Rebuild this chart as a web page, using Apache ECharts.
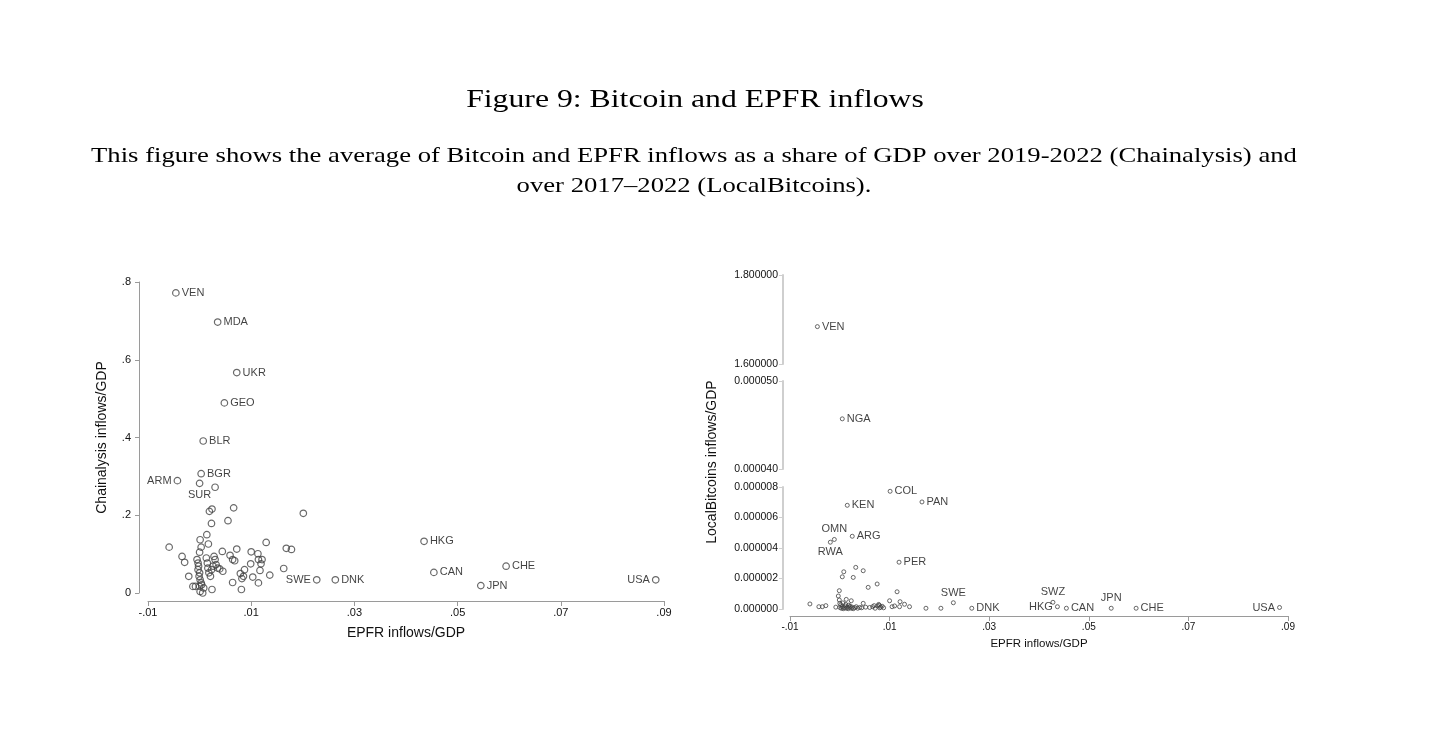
<!DOCTYPE html>
<html>
<head>
<meta charset="utf-8">
<title>Figure 9: Bitcoin and EPFR inflows</title>
<script src="https://cdn.jsdelivr.net/npm/echarts@6/dist/echarts.min.js"></script>
<style>
  html, body { margin: 0; padding: 0; background: #fff; }
  #chart { width: 1440px; height: 738px; }
</style>
</head>
<body>
<div id="chart"></div>
<script>
// left panel: Chainalysis inflows/GDP vs EPFR inflows/GDP (labelled countries)
const leftNames = ['VEN', 'MDA', 'UKR', 'GEO', 'BLR', 'BGR', 'ARM', 'SUR', 'HKG', 'CAN', 'CHE', 'JPN', 'USA', 'SWE', 'DNK']
const leftX = [-0.0046, 0.0035, 0.0072, 0.0048, 0.0007, 0.0003, -0.0043, 0.0000, 0.0435, 0.0454, 0.0594, 0.0545, 0.0884, 0.0227, 0.0263]
const leftY = [0.772, 0.697, 0.567, 0.489, 0.391, 0.307, 0.289, 0.282, 0.133, 0.053, 0.069, 0.019, 0.034, 0.034, 0.034]

// left panel: unlabelled countries
const leftOtherX = [
  -0.0059, -0.0034, -0.0029, -0.0021, -0.0013, -0.0008, -0.0005, -0.0003, -0.0002, -0.0003,
  0.0000, -0.0001, 0.0001, 0.0003, 0.0000, 0.0001, 0.0006, 0.0008, 0.0004, 0.0001,
  0.0003, 0.0000, 0.0014, 0.0017, 0.0019, 0.0024, 0.0023, 0.0013, 0.0015, 0.0016,
  0.0018, 0.0021, 0.0023, 0.0026, 0.0028, 0.0030, 0.0032, 0.0035, 0.0039, 0.0045,
  0.0044, 0.0055, 0.0066, 0.0059, 0.0064, 0.0068, 0.0072, 0.0079, 0.0082, 0.0085,
  0.0087, 0.0064, 0.0081, 0.0100, 0.0099, 0.0103, 0.0113, 0.0114, 0.0119, 0.0121,
  0.0117, 0.0114, 0.0129, 0.0136, 0.0163, 0.0168, 0.0178, 0.0201, 0.0024, 0.0030
]
const leftOtherY = [
  0.118, 0.094, 0.079, 0.043, 0.017, 0.017, 0.086, 0.077, 0.069, 0.060,
  0.052, 0.043, 0.034, 0.026, 0.017, 0.004, 0.000, 0.013, 0.021, 0.137,
  0.118, 0.105, 0.150, 0.126, 0.210, 0.216, 0.179, 0.090, 0.077, 0.064,
  0.052, 0.043, 0.060, 0.069, 0.094, 0.086, 0.073, 0.064, 0.062, 0.056,
  0.107, 0.186, 0.219, 0.097, 0.086, 0.083, 0.113, 0.050, 0.037, 0.043,
  0.060, 0.027, 0.009, 0.106, 0.075, 0.041, 0.101, 0.086, 0.075, 0.086,
  0.058, 0.026, 0.130, 0.046, 0.063, 0.115, 0.112, 0.205, 0.009, 0.272
]

// right panel: LocalBitcoins inflows/GDP vs EPFR inflows/GDP (labelled countries)
const rightNames = ['VEN', 'NGA', 'COL', 'PAN', 'KEN', 'ARG', 'OMN', 'RWA', 'PER', 'SWE', 'DNK', 'SWZ', 'HKG', 'CAN', 'JPN', 'CHE', 'USA']
const rightX = [-0.0045, 0.0005, 0.0101, 0.0165, 0.0015, 0.0025, -0.0011, -0.0019, 0.0119, 0.0228, 0.0265, 0.0428, 0.0437, 0.0455, 0.0545, 0.0595, 0.0883]
const rightY = [1.684, 0.0000457, 0.00000772, 0.00000702, 0.00000680, 0.00000477, 0.00000456, 0.00000438, 0.00000307,
  0.00000041, 0.00000005, 0.00000044, 0.00000015, 0.00000005, 0.00000005, 0.00000005, 0.00000010]

// right panel: unlabelled countries
const rightOtherX = [
  -0.0060, -0.0042, -0.0035, -0.0028, -0.0008, -0.0001, -0.0003, -0.0001, 0.0000, 0.0000,
  0.0003, 0.0005, 0.0007, 0.0009, 0.0011, 0.0013, 0.0015, 0.0017, 0.0019, 0.0021,
  0.0023, 0.0025, 0.0027, 0.0030, 0.0033, 0.0036, 0.0040, 0.0005, 0.0008, 0.0013,
  0.0023, 0.0027, 0.0032, 0.0047, 0.0047, 0.0057, 0.0075, 0.0060, 0.0066, 0.0071,
  0.0076, 0.0079, 0.0082, 0.0085, 0.0088, 0.0100, 0.0115, 0.0105, 0.0120, 0.0121,
  0.0130, 0.0140, 0.0173, 0.0203, 0.0002, 0.0006, 0.0012, 0.0018, 0.0044, 0.0052,
  0.0069, 0.0078, 0.0080, 0.0110
]
const rightOtherY = [
  0.00000033, 0.00000015, 0.00000015, 0.00000022, 0.00000012, 0.00000120, 0.00000085, 0.00000059, 0.00000037, 0.00000010,
  0.00000005, 0.00000015, 0.00000002, 0.00000008, 0.00000020, 0.00000005, 0.00000012, 0.00000002, 0.00000010, 0.00000018,
  0.00000005, 0.00000012, 0.00000002, 0.00000008, 0.00000015, 0.00000005, 0.00000010, 0.00000211, 0.00000244, 0.00000063,
  0.00000054, 0.00000207, 0.00000273, 0.00000251, 0.00000037, 0.00000142, 0.00000164, 0.00000010, 0.00000015, 0.00000005,
  0.00000020, 0.00000025, 0.00000012, 0.00000018, 0.00000008, 0.00000054, 0.00000113, 0.00000015, 0.00000015, 0.00000048,
  0.00000031, 0.00000015, 0.00000005, 0.00000005, 0.00000028, 0.00000040, 0.00000030, 0.00000025, 0.00000008, 0.00000012,
  0.00000022, 0.00000030, 0.00000008, 0.00000020
]

// where a label sits when it is not to the right of its marker
const leftLabelPos = { ARM: 'left', SUR: 'bottom', SWE: 'left', USA: 'left' }
const rightLabelPos = { OMN: 'top', RWA: 'bottom', SWE: 'top', SWZ: 'top', HKG: 'left', JPN: 'top', USA: 'left' }

const sans = 'Liberation Sans'
const serif = 'Liberation Serif'
const axisGrey = '#9a9a9a'
// Computer Modern is wider than Times, stretch the headings to the same width
const headStretch = 1.27

function points(names, xs, ys, otherX, otherY, pos) {
  const out = names.map((n, i) => ({
    name: n,
    value: [xs[i], ys[i]],
    label: { position: pos[n] || 'right' }
  }))
  otherX.forEach((x, i) => out.push({ name: '', value: [x, otherY[i]] }))
  return out
}

const leftData = points(leftNames, leftX, leftY, leftOtherX, leftOtherY, leftLabelPos)
const rightData = points(rightNames, rightX, rightY, rightOtherX, rightOtherY, rightLabelPos)
// the right y axis is broken into three bands
const rightTop = rightData.filter(d => d.value[1] >= 1)
const rightMid = rightData.filter(d => d.value[1] < 1 && d.value[1] >= 0.00002)
const rightBot = rightData.filter(d => d.value[1] < 0.00002)

const epfrFmt = v => v.toFixed(2).replace('0.', '.')

function xAxisCfg(grid, show, left) {
  return {
    gridIndex: grid,
    show: show,
    type: 'value',
    min: -0.01,
    max: 0.09,
    interval: 0.02,
    offset: left ? 8 : 7,
    name: 'EPFR inflows/GDP',
    nameLocation: 'middle',
    nameGap: left ? 25 : 22,
    nameTextStyle: { fontFamily: sans, fontSize: left ? 14 : 11.5, color: '#111' },
    axisLine: { show: true, onZero: false, lineStyle: { color: axisGrey, width: 1 } },
    axisTick: { show: true, length: 5, lineStyle: { color: axisGrey } },
    axisLabel: { formatter: epfrFmt, fontFamily: sans, fontSize: left ? 11 : 10, color: '#111', margin: 6 },
    splitLine: { show: false }
  }
}

function rightYCfg(grid, min, max, interval) {
  return {
    gridIndex: grid,
    type: 'value',
    min: min,
    max: max,
    interval: interval,
    offset: 7,
    axisLine: { show: true, onZero: false, lineStyle: { color: '#cfcfcf', width: 2 } },
    axisTick: { show: true, length: 4, lineStyle: { color: '#cfcfcf' } },
    axisLabel: { formatter: v => v.toFixed(6), fontFamily: sans, fontSize: 10.5, color: '#111', margin: 5 },
    splitLine: { show: false }
  }
}

function scatter(xi, yi, data, size, bw, fs) {
  return {
    type: 'scatter',
    xAxisIndex: xi,
    yAxisIndex: yi,
    data: data,
    symbol: 'circle',
    symbolSize: size,
    itemStyle: { color: 'rgba(0,0,0,0)', borderColor: '#444', borderWidth: bw },
    label: {
      show: true,
      formatter: p => p.name,
      distance: 2,
      fontFamily: sans,
      fontSize: fs,
      color: '#111'
    },
    emphasis: { disabled: true }
  }
}

const chart = echarts.init(document.getElementById('chart'))
chart.setOption({
  animation: false,
  backgroundColor: '#fff',
  graphic: [
    {
      type: 'text', x: 695, y: 100, scaleX: headStretch,
      style: {
        text: 'Figure 9: Bitcoin and EPFR inflows', font: '25px "' + serif + '"',
        fill: '#000', align: 'center', verticalAlign: 'middle'
      }
    },
    {
      type: 'text', x: 694, y: 171, scaleX: headStretch,
      style: {
        text: 'This figure shows the average of Bitcoin and EPFR inflows as a share of GDP over 2019-2022 (Chainalysis) and\nover 2017\u20132022 (LocalBitcoins).',
        font: '21px "' + serif + '"', fill: '#000', align: 'center', verticalAlign: 'middle', lineHeight: 30
      }
    },
    {
      type: 'text', x: 712, y: 462, rotation: Math.PI / 2,
      style: { text: 'LocalBitcoins inflows/GDP', font: '14px "' + sans + '"', fill: '#111', align: 'center', verticalAlign: 'middle' }
    }
  ],
  grid: [
    { left: 148, width: 516, top: 282, height: 311 },
    { left: 790, width: 498, top: 275, height: 89 },
    { left: 790, width: 498, top: 381, height: 88 },
    { left: 790, width: 498, top: 487, height: 122 }
  ],
  xAxis: [
    xAxisCfg(0, true, true),
    xAxisCfg(1, false, false),
    xAxisCfg(2, false, false),
    xAxisCfg(3, true, false)
  ],
  yAxis: [
    {
      gridIndex: 0,
      type: 'value',
      min: 0,
      max: 0.8,
      interval: 0.2,
      offset: 9,
      name: 'Chainalysis inflows/GDP',
      nameLocation: 'middle',
      nameGap: 30,
      nameTextStyle: { fontFamily: sans, fontSize: 14, color: '#111' },
      axisLine: { show: true, onZero: false, lineStyle: { color: axisGrey, width: 1 } },
      axisTick: { show: true, length: 4, lineStyle: { color: axisGrey } },
      axisLabel: {
        formatter: v => (Math.abs(v) < 1e-9 ? '0' : v.toFixed(1).replace(/^0/, '')),
        fontFamily: sans, fontSize: 11, color: '#111', margin: 8
      },
      splitLine: { show: false }
    },
    rightYCfg(1, 1.6, 1.8, 0.2),
    rightYCfg(2, 0.00004, 0.00005, 0.00001),
    rightYCfg(3, 0, 0.000008, 0.000002)
  ],
  series: [
    scatter(0, 0, leftData, 6.5, 1.2, 11),
    scatter(1, 1, rightTop, 4, 1, 11),
    scatter(2, 2, rightMid, 4, 1, 11),
    scatter(3, 3, rightBot, 4, 1, 11)
  ]
})
</script>
</body>
</html>
